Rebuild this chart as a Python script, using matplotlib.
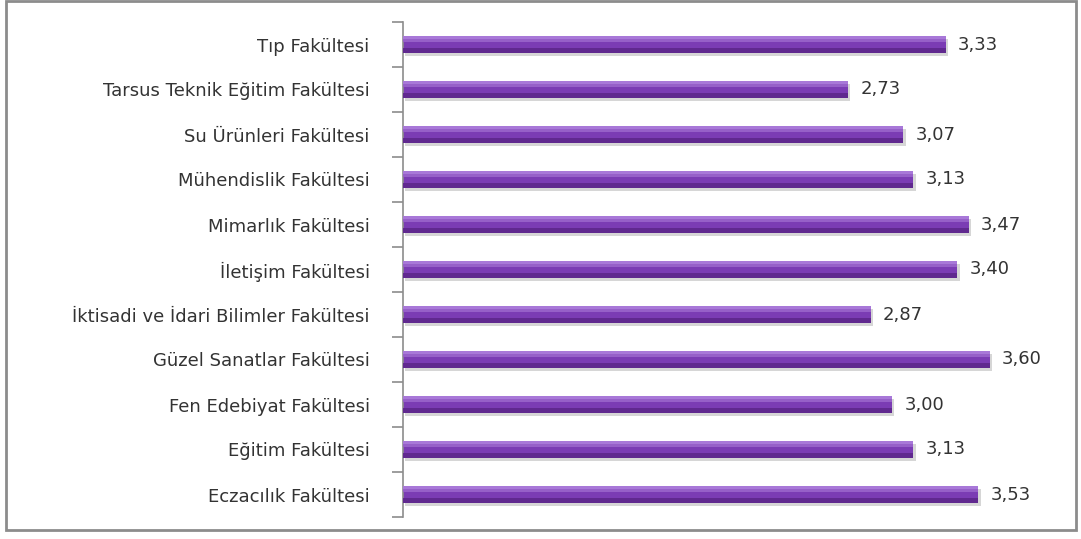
import matplotlib.pyplot as plt
from matplotlib.patches import Rectangle

faculties = [
    "Eczacılık Fakültesi",
    "Eğitim Fakültesi",
    "Fen Edebiyat Fakültesi",
    "Güzel Sanatlar Fakültesi",
    "İktisadi ve İdari Bilimler Fakültesi",
    "İletişim Fakültesi",
    "Mimarlık Fakültesi",
    "Mühendislik Fakültesi",
    "Su Ürünleri Fakültesi",
    "Tarsus Teknik Eğitim Fakültesi",
    "Tıp Fakültesi",
]
scores = [3.53, 3.13, 3.00, 3.60, 2.87, 3.40, 3.47, 3.13, 3.07, 2.73, 3.33]
labels = ["3,53", "3,13", "3,00", "3,60", "2,87", "3,40", "3,47", "3,13", "3,07", "2,73", "3,33"]

plt.rcParams["font.family"] = ["DejaVu Sans"]

fig = plt.figure(figsize=(10.81, 5.39), dpi=100)
ax = fig.add_axes([403 / 1081, 22 / 539, 652 / 1081, 495 / 539])

y = list(range(len(faculties)))
h = 0.38

# shadow, body, dark bottom, highlight
ax.barh([v - 0.06 for v in y], scores, height=h, left=0.015, color="#d6d6d6", zorder=1)
ax.barh(y, scores, height=h, color="#7b3cb4", zorder=2)
ax.barh([v - h * 0.34 for v in y], scores, height=h * 0.32, color="#60298f", zorder=3)
ax.barh([v + h * 0.25 for v in y], scores, height=h * 0.2, color="#9660c8", zorder=3)
ax.barh([v + h * 0.42 for v in y], scores, height=h * 0.16, color="#a878d8", zorder=3)

for yi, v, lab in zip(y, scores, labels):
    ax.text(v + 0.075, yi, lab, va="center", ha="left", fontsize=13, color="#333333")

ax.set_xlim(0, 4)
ax.set_ylim(-0.5, len(faculties) - 0.5)
ax.set_yticks(y)
ax.set_yticklabels(faculties, fontsize=13, color="#333333")
ax.set_yticks([v + 0.5 for v in y[:-1]] + [-0.5, len(faculties) - 0.5], minor=True)
ax.tick_params(axis="y", which="major", length=0, pad=24)
ax.tick_params(axis="y", which="minor", length=8, color="#8c8c8c", width=1.2)
ax.set_xticks([])
for s in ["top", "right", "bottom"]:
    ax.spines[s].set_visible(False)
ax.spines["left"].set_color("#8c8c8c")
ax.spines["left"].set_linewidth(1.2)

fig.patches.append(Rectangle((6 / 1081, 9 / 539), 1070 / 1081, 529 / 539,
                             transform=fig.transFigure, fill=False,
                             edgecolor="#8c8c8c", linewidth=2))

fig.savefig("out.png", dpi=100)
